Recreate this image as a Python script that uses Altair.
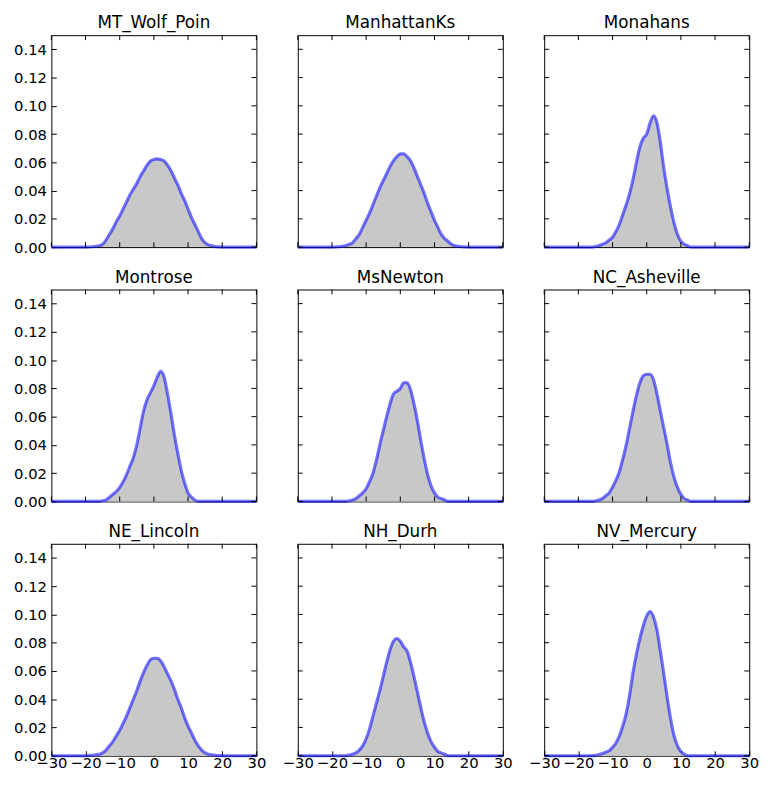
import altair as alt
import pandas as pd

# x positions of the density estimates (temperature anomaly)
x_values = [-30, -20, -16, -15, -14, -13, -12, -11, -10, -9, -8, -7, -6, -5, -4, -3, -2, -1,
            0, 1, 2, 3, 4, 5, 6, 7, 8, 9, 10, 11, 12, 13, 14, 15, 16, 20, 30]

stations = ["MT_Wolf_Poin", "ManhattanKs", "Monahans",
            "Montrose", "MsNewton", "NC_Asheville",
            "NE_Lincoln", "NH_Durh", "NV_Mercury"]

mt_wolf_poin = [0, 0, 0.001, 0.002, 0.005, 0.009, 0.013, 0.018, 0.022, 0.027, 0.032, 0.037, 0.041,
                0.045, 0.050, 0.054, 0.058, 0.061, 0.062, 0.0625, 0.062, 0.061, 0.058, 0.054, 0.049,
                0.044, 0.038, 0.033, 0.027, 0.021, 0.016, 0.011, 0.006, 0.003, 0.0015, 0, 0]
manhattan_ks = [0, 0, 0.001, 0.002, 0.003, 0.006, 0.009, 0.014, 0.019, 0.024, 0.030, 0.036, 0.042,
                0.047, 0.052, 0.057, 0.061, 0.064, 0.066, 0.066, 0.064, 0.061, 0.056, 0.050, 0.044,
                0.038, 0.031, 0.025, 0.019, 0.014, 0.009, 0.006, 0.004, 0.002, 0.001, 0, 0]
monahans = [0, 0, 0, 0.0005, 0.001, 0.002, 0.003, 0.005, 0.007, 0.011, 0.016, 0.023, 0.030,
            0.038, 0.048, 0.060, 0.071, 0.077, 0.080, 0.088, 0.093, 0.088, 0.074, 0.056, 0.041,
            0.028, 0.017, 0.009, 0.004, 0.002, 0.001, 0, 0, 0, 0, 0, 0]
montrose = [0, 0, 0, 0.0005, 0.001, 0.003, 0.005, 0.007, 0.010, 0.014, 0.019, 0.025, 0.031,
            0.040, 0.052, 0.064, 0.072, 0.077, 0.082, 0.088, 0.092, 0.088, 0.076, 0.062, 0.047,
            0.034, 0.022, 0.013, 0.006, 0.003, 0.001, 0, 0, 0, 0, 0, 0]
ms_newton = [0, 0, 0, 0.0005, 0.001, 0.002, 0.004, 0.006, 0.009, 0.014, 0.020, 0.029, 0.040,
             0.050, 0.060, 0.069, 0.076, 0.078, 0.080, 0.084, 0.084, 0.079, 0.069, 0.057, 0.043,
             0.030, 0.019, 0.011, 0.006, 0.003, 0.002, 0.001, 0, 0, 0, 0, 0]
nc_asheville = [0, 0, 0, 0.0003, 0.001, 0.002, 0.004, 0.006, 0.010, 0.015, 0.021, 0.030, 0.040,
                0.052, 0.064, 0.075, 0.084, 0.089, 0.090, 0.090, 0.086, 0.076, 0.064, 0.052, 0.040,
                0.027, 0.017, 0.010, 0.005, 0.002, 0.001, 0, 0, 0, 0, 0, 0]
ne_lincoln = [0, 0, 0.001, 0.002, 0.004, 0.007, 0.010, 0.014, 0.018, 0.023, 0.028, 0.034, 0.040,
              0.046, 0.053, 0.059, 0.064, 0.068, 0.069, 0.069, 0.067, 0.063, 0.058, 0.053, 0.047,
              0.040, 0.034, 0.027, 0.021, 0.016, 0.011, 0.007, 0.004, 0.002, 0.001, 0, 0]
nh_durh = [0, 0, 0, 0.0005, 0.001, 0.002, 0.004, 0.007, 0.012, 0.019, 0.028, 0.037, 0.046,
           0.056, 0.066, 0.075, 0.081, 0.083, 0.081, 0.077, 0.074, 0.066, 0.056, 0.045, 0.034,
           0.024, 0.016, 0.010, 0.006, 0.003, 0.002, 0.001, 0, 0, 0, 0, 0]
nv_mercury = [0, 0, 0, 0.0003, 0.0008, 0.0015, 0.0025, 0.0035, 0.006, 0.009, 0.014, 0.021, 0.030,
              0.043, 0.059, 0.072, 0.083, 0.092, 0.099, 0.102, 0.098, 0.089, 0.074, 0.058, 0.041,
              0.026, 0.014, 0.007, 0.003, 0.001, 0, 0, 0, 0, 0, 0, 0]

series = [mt_wolf_poin, manhattan_ks, monahans, montrose, ms_newton,
          nc_asheville, ne_lincoln, nh_durh, nv_mercury]

x_ticks = [-30, -20, -10, 0, 10, 20, 30]
y_ticks = [0.0, 0.02, 0.04, 0.06, 0.08, 0.10, 0.12, 0.14]

rows = []
for name, vals in zip(stations, series):
    assert len(vals) == len(x_values), name
    for x, d in zip(x_values, vals):
        rows.append({"station": name, "x": x, "density": d})
df = pd.DataFrame(rows)
xtick_df = pd.DataFrame({"x": x_ticks})
ytick_df = pd.DataFrame({"density": y_ticks})

FONT = "DejaVu Sans"
W, H, TICK = 208, 215, 5
xscale = alt.Scale(domain=[-30, 30], nice=False, zero=False)
yscale = alt.Scale(domain=[0, 0.15], nice=False, zero=False)
common = dict(offset=-TICK, tickSize=TICK, domain=False, grid=False, tickColor="black",
              tickWidth=1, labelFont=FONT, labelFontSize=15, labelColor="black",
              labelFlush=False, labelOverlap=False, title=None, minExtent=0)


def panel(i, name):
    col, row = i % 3, i // 3
    base = alt.Chart(df).transform_filter(alt.datum.station == name)
    x_axis = (alt.Axis(orient="bottom", values=x_ticks, labelPadding=0, **common)
              if row == 2 else None)
    y_axis = (alt.Axis(orient="left", values=y_ticks, format=".2f", labelPadding=5, **common)
              if col == 0 else None)
    xenc = alt.X("x:Q", scale=xscale, axis=x_axis)
    yenc = alt.Y("density:Q", scale=yscale, axis=y_axis)
    area = base.mark_area(color="#c8c8c8", interpolate="monotone").encode(x=xenc, y=yenc)
    line = base.mark_line(color="#0000ff", opacity=0.55, strokeWidth=3.2,
                          interpolate="monotone").encode(x=xenc, y=yenc)
    xt = alt.Chart(xtick_df).mark_rule(color="black", strokeWidth=1)
    yt = alt.Chart(ytick_df).mark_rule(color="black", strokeWidth=1)
    title = alt.Chart(pd.DataFrame({"station": [name]})).mark_text(
        font=FONT, fontSize=17, color="black", align="center", baseline="alphabetic"
    ).encode(text="station:N", x=alt.value(W / 2), y=alt.value(-7))
    layers = [
        area, line,
        xt.encode(x=xenc, y=alt.value(0), y2=alt.value(TICK)),
        yt.encode(y=yenc, x=alt.value(W - TICK), x2=alt.value(W)),
    ]
    if row != 2:
        layers.append(xt.encode(x=xenc, y=alt.value(H - TICK), y2=alt.value(H)))
    if col != 0:
        layers.append(yt.encode(y=yenc, x=alt.value(0), x2=alt.value(TICK)))
    layers.append(title)
    return alt.layer(*layers).properties(width=W, height=H)


chart = alt.concat(*[panel(i, n) for i, n in enumerate(stations)], columns=3,
                   spacing={"row": 43, "column": 42}, bounds="flush").configure_view(
    stroke="black", strokeWidth=1).properties(
    padding={"left": 5, "top": 0, "right": 5, "bottom": 0})

chart.save("out.html", embed_options={"renderer": "svg", "actions": False})
